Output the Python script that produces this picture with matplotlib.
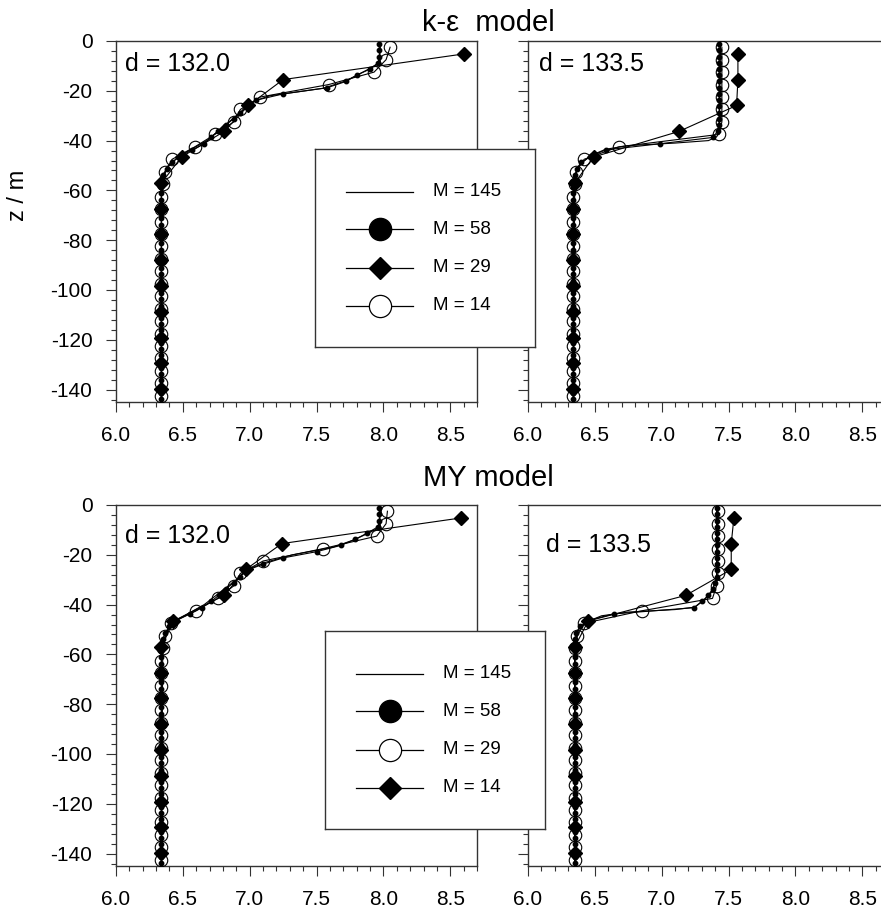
import matplotlib
matplotlib.use("Agg")
import matplotlib.pyplot as plt
from matplotlib.ticker import MultipleLocator

plt.rcParams["font.family"] = ["Liberation Sans", "DejaVu Sans"]

# layer centres (m) for the three discretisations
z58 = [-1.25, -3.75, -6.25, -8.75, -11.25, -13.75, -16.25, -18.75, -21.25, -23.75,
       -26.25, -28.75, -31.25, -33.75, -36.25, -38.75, -41.25, -43.75, -46.25, -48.75,
       -51.25, -53.75, -56.25, -58.75, -61.25, -63.75, -66.25, -68.75, -71.25, -73.75,
       -76.25, -78.75, -81.25, -83.75, -86.25, -88.75, -91.25, -93.75, -96.25, -98.75,
       -101.25, -103.75, -106.25, -108.75, -111.25, -113.75, -116.25, -118.75, -121.25,
       -123.75, -126.25, -128.75, -131.25, -133.75, -136.25, -138.75, -141.25, -143.75]
z29 = [-2.5, -7.5, -12.5, -17.5, -22.5, -27.5, -32.5, -37.5, -42.5, -47.5, -52.5,
       -57.5, -62.5, -67.5, -72.5, -77.5, -82.5, -87.5, -92.5, -97.5, -102.5, -107.5,
       -112.5, -117.5, -122.5, -127.5, -132.5, -137.5, -142.5]
z14 = [-5.2, -15.5, -25.9, -36.3, -46.6, -57.0, -67.3, -77.7, -88.0, -98.4, -108.8,
       -119.1, -129.5, -139.8]

# k-epsilon model, d = 132.0
ke1_z145 = [0, -9, -11, -16, -19, -22, -24, -30, -40, -46, -50, -55, -60, -145]
ke1_t145 = [7.98, 7.97, 7.90, 7.72, 7.55, 7.15, 7.04, 6.90, 6.68, 6.48, 6.39, 6.35, 6.34, 6.34]
ke1_t58 = [7.97, 7.97, 7.97, 7.96, 7.90, 7.80, 7.72, 7.58, 7.25, 7.05, 6.97, 6.93, 6.88,
           6.82, 6.76, 6.71, 6.66, 6.57, 6.48, 6.42, 6.38, 6.35, 6.34, 6.34, 6.34, 6.34,
           6.34, 6.34, 6.34, 6.34, 6.34, 6.34, 6.34, 6.34, 6.34, 6.34, 6.34, 6.34, 6.34,
           6.34, 6.34, 6.34, 6.34, 6.34, 6.34, 6.34, 6.34, 6.34, 6.34, 6.34, 6.34, 6.34,
           6.34, 6.34, 6.34, 6.34, 6.34, 6.34]
ke1_t29 = [8.05, 8.02, 7.93, 7.59, 7.08, 6.93, 6.88, 6.74, 6.59, 6.42, 6.37, 6.35, 6.34,
           6.34, 6.34, 6.34, 6.34, 6.34, 6.34, 6.34, 6.34, 6.34, 6.34, 6.34, 6.34, 6.34,
           6.34, 6.34, 6.34]
ke1_t14 = [8.60, 7.25, 6.99, 6.81, 6.49, 6.34, 6.34, 6.34, 6.34, 6.34, 6.34, 6.34, 6.34, 6.34]

# k-epsilon model, d = 133.5
ke2_z145 = [0, -37, -38.5, -40, -41, -42, -43.5, -46, -50, -55, -145]
ke2_t145 = [7.44, 7.43, 7.41, 7.35, 7.10, 6.75, 6.58, 6.47, 6.38, 6.35, 6.34]
ke2_t58 = [7.43, 7.43, 7.43, 7.43, 7.43, 7.43, 7.43, 7.43, 7.43, 7.43, 7.43, 7.43, 7.43,
           7.43, 7.42, 7.38, 6.99, 6.58, 6.47, 6.40, 6.37, 6.35, 6.34, 6.34, 6.34, 6.34,
           6.34, 6.34, 6.34, 6.34, 6.34, 6.34, 6.34, 6.34, 6.34, 6.34, 6.34, 6.34, 6.34,
           6.34, 6.34, 6.34, 6.34, 6.34, 6.34, 6.34, 6.34, 6.34, 6.34, 6.34, 6.34, 6.34,
           6.34, 6.34, 6.34, 6.34, 6.34, 6.34]
ke2_t29 = [7.45, 7.45, 7.45, 7.45, 7.45, 7.45, 7.45, 7.43, 6.68, 6.42, 6.36, 6.35, 6.34,
           6.34, 6.34, 6.34, 6.34, 6.34, 6.34, 6.34, 6.34, 6.34, 6.34, 6.34, 6.34, 6.34,
           6.34, 6.34, 6.34]
ke2_t14 = [7.57, 7.57, 7.56, 7.13, 6.49, 6.35, 6.34, 6.34, 6.34, 6.34, 6.34, 6.34, 6.34, 6.34]

# MY model, d = 132.0
my1_z145 = [0, -9, -11, -14, -17, -20, -23, -26, -30, -40, -46, -50, -55, -145]
my1_t145 = [7.98, 7.97, 7.90, 7.78, 7.62, 7.32, 7.12, 6.98, 6.90, 6.66, 6.46, 6.39, 6.35, 6.34]
my1_t58 = [7.97, 7.97, 7.97, 7.96, 7.88, 7.79, 7.68, 7.50, 7.25, 7.10, 6.98, 6.93, 6.88,
           6.82, 6.77, 6.71, 6.64, 6.55, 6.45, 6.40, 6.37, 6.35, 6.34, 6.34, 6.34, 6.34,
           6.34, 6.34, 6.34, 6.34, 6.34, 6.34, 6.34, 6.34, 6.34, 6.34, 6.34, 6.34, 6.34,
           6.34, 6.34, 6.34, 6.34, 6.34, 6.34, 6.34, 6.34, 6.34, 6.34, 6.34, 6.34, 6.34,
           6.34, 6.34, 6.34, 6.34, 6.34, 6.34]
my1_t29 = [8.03, 8.02, 7.95, 7.55, 7.10, 6.93, 6.88, 6.76, 6.60, 6.41, 6.37, 6.35, 6.34,
           6.34, 6.34, 6.34, 6.34, 6.34, 6.34, 6.34, 6.34, 6.34, 6.34, 6.34, 6.34, 6.34,
           6.34, 6.34, 6.34]
my1_t14 = [8.58, 7.24, 6.97, 6.81, 6.43, 6.34, 6.34, 6.34, 6.34, 6.34, 6.34, 6.34, 6.34, 6.34]

# MY model, d = 133.5
my2_z145 = [0, -30, -35, -38, -41, -42, -43, -44.5, -46.5, -50, -55, -145]
my2_t145 = [7.42, 7.41, 7.37, 7.32, 7.25, 7.10, 6.75, 6.55, 6.46, 6.38, 6.35, 6.35]
my2_t58 = [7.41, 7.41, 7.41, 7.41, 7.41, 7.41, 7.41, 7.41, 7.41, 7.41, 7.41, 7.41, 7.40,
           7.38, 7.35, 7.30, 7.24, 6.64, 6.46, 6.39, 6.36, 6.35, 6.35, 6.35, 6.35, 6.35,
           6.35, 6.35, 6.35, 6.35, 6.35, 6.35, 6.35, 6.35, 6.35, 6.35, 6.35, 6.35, 6.35,
           6.35, 6.35, 6.35, 6.35, 6.35, 6.35, 6.35, 6.35, 6.35, 6.35, 6.35, 6.35, 6.35,
           6.35, 6.35, 6.35, 6.35, 6.35, 6.35]
my2_t29 = [7.42, 7.42, 7.42, 7.42, 7.42, 7.42, 7.41, 7.38, 6.85, 6.42, 6.37, 6.35, 6.35,
           6.35, 6.35, 6.35, 6.35, 6.35, 6.35, 6.35, 6.35, 6.35, 6.35, 6.35, 6.35, 6.35,
           6.35, 6.35, 6.35]
my2_t14 = [7.54, 7.52, 7.52, 7.18, 6.45, 6.35, 6.35, 6.35, 6.35, 6.35, 6.35, 6.35, 6.35, 6.35]

legend_top = ["M = 145", "M = 58", "M = 29", "M = 14"]
legend_bottom = ["M = 145", "M = 58", "M = 29", "M = 14"]

W, H = 881, 915
SPINE = "#333333"
fig = plt.figure(figsize=(W / 100, H / 100), dpi=100)


def px_axes(x0, y0, x1, y1):
    return fig.add_axes([x0 / W, 1 - y1 / H, (x1 - x0) / W, (y1 - y0) / H])


def style(ax, show_ylabels):
    ax.set_xlim(6.0, 8.7)
    ax.set_ylim(-145, 0)
    ax.xaxis.set_major_locator(MultipleLocator(0.5))
    ax.xaxis.set_minor_locator(MultipleLocator(0.1))
    ax.yaxis.set_major_locator(MultipleLocator(20))
    ax.yaxis.set_minor_locator(MultipleLocator(4))
    ax.xaxis.set_major_formatter(plt.FuncFormatter(lambda v, p: f"{v:.1f}"))
    ax.yaxis.set_major_formatter(plt.FuncFormatter(lambda v, p: f"{v:.0f}".replace("-0", "0")))
    ax.tick_params(which="major", direction="out", length=7, width=0.8, color=SPINE,
                   labelsize=15, pad=10)
    ax.tick_params(which="minor", direction="out", length=3.5, width=0.8, color=SPINE)
    ax.tick_params(axis="y", labelleft=show_ylabels)
    for s in ax.spines.values():
        s.set_color(SPINE)
        s.set_linewidth(1.0)


def panel(ax, z145, t145, t58, t29, t14, label, circ_first):
    ax.plot(t145, z145, color="black", lw=0.8, zorder=2)
    ax.plot(t14, z14, color="black", lw=0.8, marker="D", ms=7.6, mfc="black",
            mec="black", zorder=3)
    ax.plot(t29, z29, color="black", lw=0.8, marker="o", ms=9, mfc="none",
            mec="black", mew=0.8, zorder=4)
    ax.plot(t58, z58, color="black", lw=0.8, marker="o", ms=3.2, mfc="black",
            mec="black", zorder=5)
    ax.text(label[1], label[2], label[0], transform=ax.transAxes, fontsize=18,
            ha="left", va="center")


def legend_box(x0, y0, labels, styles):
    lax = px_axes(x0, y0, x0 + 220, y0 + 198)
    lax.set_xlim(0, 220)
    lax.set_ylim(198, 0)
    lax.set_xticks([])
    lax.set_yticks([])
    lax.set_facecolor("white")
    for s in lax.spines.values():
        s.set_color(SPINE)
        s.set_linewidth(1.0)
    rows = [43, 80, 119, 157]
    for y, lab, st in zip(rows, labels, styles):
        lax.plot([31, 98], [y, y], color="black", lw=0.9)
        if st is not None:
            lax.plot([64.5], [y], **st)
        lax.text(118, y, lab, fontsize=13.5, va="center", ha="left")


big_dot = dict(marker="o", ms=16, mfc="black", mec="black", ls="none")
big_dia = dict(marker="D", ms=11.2, mfc="black", mec="black", ls="none")
big_circ = dict(marker="o", ms=16, mfc="white", mec="black", mew=0.9, ls="none")

ax1 = px_axes(116, 41, 477, 402)
ax2 = px_axes(528, 41, 889, 402)
ax3 = px_axes(116, 505, 477, 866)
ax4 = px_axes(528, 505, 889, 866)
for ax, lab in [(ax1, True), (ax2, False), (ax3, True), (ax4, False)]:
    style(ax, lab)

panel(ax1, ke1_z145, ke1_t145, ke1_t58, ke1_t29, ke1_t14, ("d = 132.0", 0.025, 0.935), True)
panel(ax2, ke2_z145, ke2_t145, ke2_t58, ke2_t29, ke2_t14, ("d = 133.5", 0.03, 0.935), True)
panel(ax3, my1_z145, my1_t145, my1_t58, my1_t29, my1_t14, ("d = 132.0", 0.025, 0.915), True)
panel(ax4, my2_z145, my2_t145, my2_t58, my2_t29, my2_t14, ("d = 133.5", 0.05, 0.89), True)

fig.text(422 / W, 1 - 23 / H, "k-\u03b5  model", fontsize=21, ha="left", va="center")
fig.text(423 / W, 1 - 478 / H, "MY model", fontsize=21, ha="left", va="center")
fig.text(18 / W, 1 - 195 / H, "z / m", fontsize=17, rotation=90, ha="center", va="center")

legend_box(315, 149, legend_top, [None, big_dot, big_dia, big_circ])
legend_box(325, 631, legend_bottom, [None, big_dot, big_circ, big_dia])

fig.savefig("out.png", dpi=100)
